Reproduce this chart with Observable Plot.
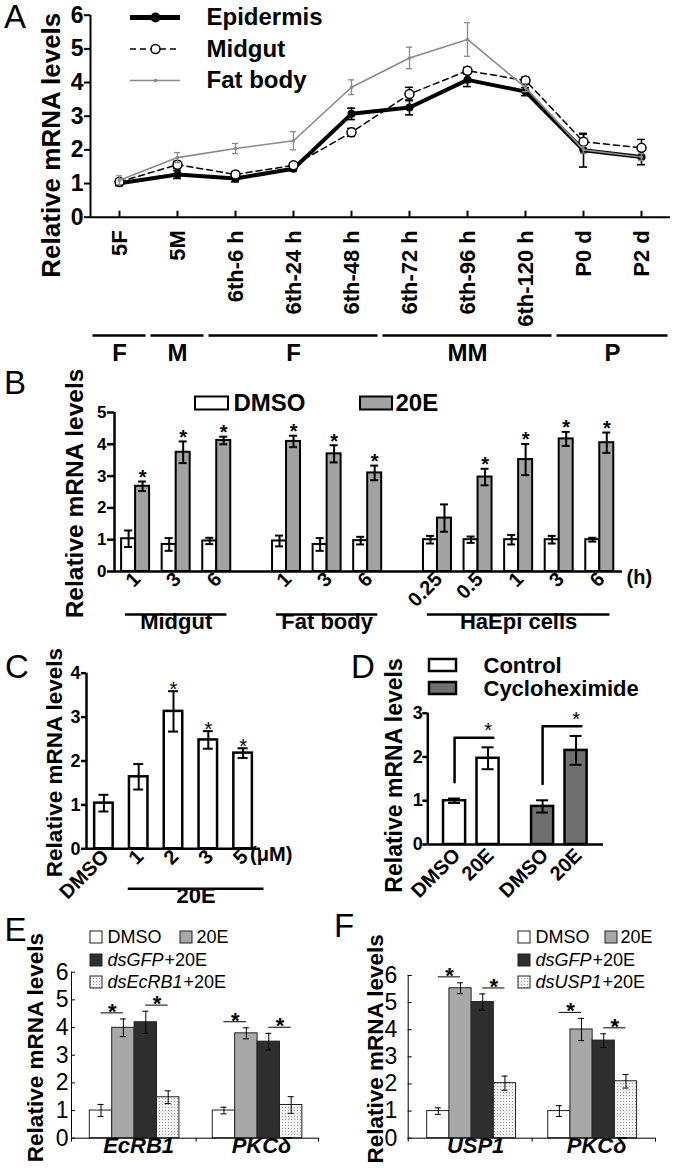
<!DOCTYPE html>
<html><head><meta charset="utf-8">
<script src="https://cdn.jsdelivr.net/npm/d3@7"></script>
<script src="https://cdn.jsdelivr.net/npm/@observablehq/plot@0.6"></script>
<style>
html,body{margin:0;padding:0;background:#fff;}
#fig{position:relative;width:677px;height:1168px;overflow:hidden;background:#fff;font-family:"Liberation Sans",Arial,Helvetica,sans-serif;color:#000;}
#fig svg{max-width:none;}
.plab{position:absolute;font-size:33px;line-height:33px;font-weight:normal;}
</style></head>
<body>
<svg width="0" height="0" style="position:absolute"><defs>
<pattern id="dots" width="3" height="3" patternUnits="userSpaceOnUse"><rect width="3" height="3" fill="#f2f2f2"/><rect width="1" height="1" fill="#9a9a9a"/></pattern>
</defs></svg>
<div id="fig"></div>
<script>
// ================= DATA =================
// Panel A
const stagesA = ["5F","5M","6th-6 h","6th-24 h","6th-48 h","6th-72 h","6th-96 h","6th-120 h","P0 d","P2 d"];
const epidermisMean = [1.01,1.27,1.15,1.44,3.07,3.26,4.08,3.73,1.99,1.79];
const epidermisErr  = [0.07,0.12,0.10,0.07,0.17,0.22,0.20,0.12,0.50,0.23];
const midgutMean    = [1.05,1.56,1.27,1.54,2.52,3.66,4.35,4.06,2.24,2.06];
const midgutErr     = [0.08,0.10,0.08,0.08,0.12,0.20,0.10,0.10,0.22,0.25];
const fatBodyMean   = [1.10,1.77,2.04,2.27,3.86,4.73,5.28,3.85,2.00,1.79];
const fatBodyErr    = [0.13,0.15,0.15,0.27,0.22,0.32,0.50,0.12,0.10,0.10];
const seriesNamesA  = ["Epidermis","Midgut","Fat body"];
const stageGroupLabel = ["F","M","F","MM","P"];
const stageGroupFrom  = ["5F","5M","6th-6 h","6th-72 h","P0 d"];
const stageGroupTo    = ["5F","5M","6th-48 h","6th-120 h","P2 d"];

// Panel B
const tissuesB = ["Midgut","Midgut","Midgut","Fat body","Fat body","Fat body","HaEpi cells","HaEpi cells","HaEpi cells","HaEpi cells","HaEpi cells"];
const hoursB   = ["1","3","6","1","3","6","0.25","0.5","1","3","6"];
const dmsoB    = [1.03,0.85,0.96,0.96,0.85,0.97,1.00,1.00,1.00,1.00,1.00];
const dmsoErrB = [0.26,0.20,0.10,0.17,0.20,0.12,0.12,0.10,0.15,0.12,0.06];
const e20B     = [2.68,3.75,4.12,4.09,3.70,3.10,1.68,2.97,3.52,4.17,4.05];
const e20ErrB  = [0.15,0.34,0.12,0.18,0.27,0.23,0.43,0.26,0.49,0.22,0.32];
const sigB     = [true,true,true,true,true,true,false,true,true,true,true];
const seriesB  = ["DMSO","20E"];

// Panel C
const doseC = ["DMSO","1","2","3","5"];
const meanC = [1.04,1.64,3.13,2.48,2.18];
const errC  = [0.19,0.29,0.46,0.20,0.11];
const sigC  = [false,false,true,true,true];

// Panel D
const groupD = ["Control","Control","Cycloheximide","Cycloheximide"];
const treatD = ["DMSO","20E","DMSO","20E"];
const meanD  = [1.00,1.97,0.87,2.15];
const errD   = [0.05,0.25,0.14,0.33];

// Panel E
const geneE  = ["EcRB1","EcRB1","EcRB1","EcRB1","PKCδ","PKCδ","PKCδ","PKCδ"];
const treatE = ["DMSO","20E","dsGFP+20E","dsEcRB1+20E","DMSO","20E","dsGFP+20E","dsEcRB1+20E"];
const meanE  = [1.00,3.99,4.19,1.48,1.00,3.79,3.49,1.20];
const errE   = [0.22,0.32,0.40,0.23,0.12,0.20,0.30,0.30];

// Panel F
const geneF  = ["USP1","USP1","USP1","USP1","PKCδ","PKCδ","PKCδ","PKCδ"];
const treatF = ["DMSO","20E","dsGFP+20E","dsUSP1+20E","DMSO","20E","dsGFP+20E","dsUSP1+20E"];
const meanF  = [1.00,5.53,5.02,2.03,1.00,4.01,3.60,2.10];
const errF   = [0.12,0.20,0.30,0.26,0.20,0.41,0.25,0.25];

// ================= HELPERS =================
const FONT = '"Liberation Sans", Arial, Helvetica, sans-serif';
const fig = document.getElementById("fig");
const baseStyle = {fontFamily: FONT, background: "none", overflow: "visible", color: "#000"};
const ID = {type: "identity", axis: null};
function place(node, left, top) {
  node.style.position = "absolute"; node.style.left = left + "px"; node.style.top = top + "px";
  fig.appendChild(node); return node;
}
function panelLabel(t, x, y) {
  const d = document.createElement("div"); d.className = "plab"; d.textContent = t; place(d, x, y);
}
function errorMarks(data, {x, v, e, stroke = "#000", strokeWidth = 1.5, cap = 4}) {
  const lo = d => v(d) - e(d), hi = d => v(d) + e(d);
  return [
    Plot.ruleX(data, {x, y1: lo, y2: hi, stroke, strokeWidth}),
    Plot.ruleY(data, {x1: x, x2: x, y: hi, insetLeft: -cap, insetRight: -cap, stroke, strokeWidth}),
    Plot.ruleY(data, {x1: x, x2: x, y: lo, insetLeft: -cap, insetRight: -cap, stroke, strokeWidth})
  ];
}
const ctx = document.createElement("canvas").getContext("2d");
function textWidth(s, font) { ctx.font = font; return ctx.measureText(s).width; }
const YLABEL = "Relative mRNA levels";
function yLabel(dx, dy, fontSize, fontWeight) {
  return Plot.text([YLABEL], {text: d => d, frameAnchor: "left", textAnchor: "middle", rotate: -90, dx, dy, fontSize, fontWeight});
}
const intFmt = d => String(d);

// ================= PANEL A =================
const rowsA = (mean, err) => mean.map((v, i) => ({i, v, e: err[i]}));
const epi = rowsA(epidermisMean, epidermisErr);
const mid = rowsA(midgutMean, midgutErr);
const fat = rowsA(fatBodyMean, fatBodyErr);
const GRAY_A = "#8a8a8a";
const xDomA = [-0.5, stagesA.length - 0.5];
const plotA = Plot.plot({
  width: 677, height: 330, marginLeft: 90, marginRight: 7, marginTop: 14.7, marginBottom: 113.3,
  style: baseStyle,
  x: {domain: xDomA},
  y: {domain: [0, 6]},
  marks: [
    Plot.ruleY([0], {strokeWidth: 2}),
    Plot.ruleX([xDomA[0]], {strokeWidth: 2}),
    Plot.axisY({ticks: d3.range(0, 7), tickFormat: intFmt, tickSize: 6, tickPadding: 1, fontSize: 23, fontWeight: "bold", strokeWidth: 2, label: null}),
    Plot.axisX({ticks: d3.range(stagesA.length), tickFormat: i => stagesA[i], tickSize: -6, tickPadding: 19, tickRotate: -90, fontSize: 22, fontWeight: "bold", strokeWidth: 2, label: null}),
    yLabel(-39, 29, 26, "bold"),
    ...errorMarks(epi, {x: "i", v: d => d.v, e: d => d.e, strokeWidth: 1.6, cap: 4}),
    Plot.line(epi, {x: "i", y: "v", stroke: "#000", strokeWidth: 4}),
    Plot.dot(epi, {x: "i", y: "v", r: 4, fill: "#000"}),
    ...errorMarks(mid, {x: "i", v: d => d.v, e: d => d.e, strokeWidth: 1.4, cap: 4}),
    Plot.line(mid, {x: "i", y: "v", stroke: "#000", strokeWidth: 1.5, strokeDasharray: "6,4"}),
    Plot.dot(mid, {x: "i", y: "v", r: 4.5, fill: "white", stroke: "#000", strokeWidth: 1.5}),
    ...errorMarks(fat, {x: "i", v: d => d.v, e: d => d.e, stroke: GRAY_A, strokeWidth: 1.3, cap: 3}),
    Plot.line(fat, {x: "i", y: "v", stroke: GRAY_A, strokeWidth: 1.6}),
    Plot.dot(fat, {x: "i", y: "v", r: 1.8, fill: GRAY_A})
  ]
});
place(plotA, 0, 0);

// legend A
const legRowA = i => 17 + i * 31.5;
const legendA = Plot.plot({
  width: 677, height: 100, margin: 0, style: baseStyle,
  x: ID, y: ID,
  marks: [
    Plot.ruleY([legRowA(0)], {x1: 130, x2: 180, strokeWidth: 5}),
    Plot.dot([[155, legRowA(0)]], {r: 5, fill: "#000"}),
    Plot.ruleY([legRowA(1)], {x1: 130, x2: 180, strokeWidth: 1.5, strokeDasharray: "6,4"}),
    Plot.dot([[155, legRowA(1)]], {r: 4.5, fill: "white", stroke: "#000", strokeWidth: 1.5}),
    Plot.ruleY([legRowA(2)], {x1: 130, x2: 180, stroke: GRAY_A, strokeWidth: 1.6}),
    Plot.dot([[155, legRowA(2)]], {r: 1.8, fill: GRAY_A}),
    Plot.text(seriesNamesA, {text: d => d, x: 206, y: (d, i) => legRowA(i), textAnchor: "start", fontSize: 24, fontWeight: "bold"})
  ]
});
place(legendA, 0, 0);

// stage groups under A
const stageGroups = stageGroupLabel.map((lab, k) => ({lab, from: stagesA.indexOf(stageGroupFrom[k]), to: stagesA.indexOf(stageGroupTo[k])}));
const plotAG = Plot.plot({
  width: 677, height: 45, marginLeft: 90, marginRight: 7, marginTop: 0, marginBottom: 35,
  style: baseStyle,
  x: {domain: xDomA, axis: null},
  y: {domain: [0, 1], axis: null},
  marks: [
    Plot.ruleY(stageGroups, {y: 0, x1: d => d.from - 0.5, x2: d => d.to + 0.5, insetLeft: 2.5, insetRight: 2.5, strokeWidth: 2.5}),
    Plot.text(stageGroups, {x: d => (d.from + d.to) / 2, y: 0, text: "lab", dy: 18, fontSize: 24, fontWeight: "bold"})
  ]
});
place(plotAG, 0, 325);

// ================= PANEL B =================
const GAP_B = 0.72, BW_B = 0.345;
const tissueOrder = [...new Set(tissuesB)];
const rowsB = hoursB.map((h, i) => ({hour: h, tissue: tissuesB[i], pos: i + tissueOrder.indexOf(tissuesB[i]) * GAP_B,
  dm: dmsoB[i], dmE: dmsoErrB[i], tz: e20B[i], tzE: e20ErrB[i], sig: sigB[i]}));
const groupsB = tissueOrder.map(t => { const r = rowsB.filter(d => d.tissue === t); return {tissue: t, first: r[0].pos, last: r[r.length - 1].pos}; });
const xDomB = [-0.52, 12.0];
const GRAY_B = "#a2a2a2";
const plotB = Plot.plot({
  width: 677, height: 265, marginLeft: 114, marginRight: 55, marginTop: 32, marginBottom: 74,
  style: baseStyle,
  x: {domain: xDomB, axis: null},
  y: {domain: [0, 5]},
  marks: [
    Plot.rect(rowsB, {x1: d => d.pos - BW_B, x2: d => d.pos, y1: 0, y2: "dm", fill: "white", stroke: "#000", strokeWidth: 2}),
    Plot.rect(rowsB, {x1: d => d.pos, x2: d => d.pos + BW_B, y1: 0, y2: "tz", fill: GRAY_B, stroke: "#000", strokeWidth: 2}),
    ...errorMarks(rowsB, {x: d => d.pos - BW_B / 2, v: d => d.dm, e: d => d.dmE, strokeWidth: 2, cap: 4}),
    ...errorMarks(rowsB, {x: d => d.pos + BW_B / 2, v: d => d.tz, e: d => d.tzE, strokeWidth: 2, cap: 4}),
    Plot.text(rowsB.filter(d => d.sig), {x: d => d.pos + BW_B / 2, y: d => d.tz + d.tzE, text: () => "*", dy: -4, fontSize: 20, fontWeight: "bold"}),
    Plot.ruleY([0], {strokeWidth: 2.5}),
    Plot.ruleX([xDomB[0]], {strokeWidth: 2.5}),
    Plot.axisY({ticks: d3.range(0, 6), tickFormat: intFmt, tickSize: 7, tickPadding: 1, fontSize: 17, fontWeight: "bold", strokeWidth: 2.5, label: null}),
    Plot.text(rowsB, {x: "pos", text: "hour", frameAnchor: "bottom", rotate: -45, textAnchor: "end", dx: 6, dy: 9, fontSize: 20, fontWeight: "bold"}),
    Plot.text(["(h)"], {text: d => d, frameAnchor: "bottom-right", dx: 4, dy: 12, textAnchor: "start", fontSize: 20, fontWeight: "bold"}),
    Plot.ruleY(groupsB, {y: 0, x1: d => d.first - 0.25, x2: d => d.last + 0.25, dy: 43, strokeWidth: 2.5}),
    Plot.text(groupsB, {x: d => (d.first + d.last) / 2, frameAnchor: "bottom", textAnchor: "middle", text: "tissue", dy: 57, fontSize: 22, fontWeight: "bold"}),
    yLabel(-39, 1.5, 24.5, "bold")
  ]
});
place(plotB, 0, 380);

const legendB = Plot.plot({
  width: 677, height: 50, margin: 0, style: baseStyle,
  x: ID, y: ID,
  marks: [
    Plot.rect([0], {x1: 195, x2: 228, y1: 16.5, y2: 29.5, fill: "white", stroke: "#000", strokeWidth: 2}),
    Plot.rect([0], {x1: 360, x2: 392, y1: 16.5, y2: 29.5, fill: GRAY_B, stroke: "#000", strokeWidth: 2}),
    Plot.text(seriesB, {text: d => d, x: (d, i) => [233, 395][i], y: 23, textAnchor: "start", fontSize: 24, fontWeight: "bold"})
  ]
});
place(legendB, 0, 380);

// ================= PANEL C =================
const rowsC = doseC.map((d, i) => ({dose: d, i, v: meanC[i], e: errC[i], sig: sigC[i]}));
const BW_C = 0.266;
const e20GroupC = {label: "20E", first: 1, last: doseC.length - 1};
const plotC = Plot.plot({
  width: 340, height: 270, marginLeft: 86, marginRight: 80, marginTop: 22.7, marginBottom: 71.7,
  style: baseStyle,
  x: {domain: [-0.5, doseC.length - 0.5], axis: null},
  y: {domain: [0, 4]},
  marks: [
    Plot.rect(rowsC, {x1: d => d.i - BW_C, x2: d => d.i + BW_C, y1: 0, y2: "v", fill: "white", stroke: "#000", strokeWidth: 2.5}),
    ...errorMarks(rowsC, {x: "i", v: d => d.v, e: d => d.e, strokeWidth: 2, cap: 5}),
    Plot.text(rowsC.filter(d => d.sig), {x: "i", y: d => d.v + d.e, text: () => "*", dy: -2, fontSize: 20}),
    Plot.ruleY([0], {strokeWidth: 2.5}),
    Plot.ruleX([-0.5], {strokeWidth: 2.5}),
    Plot.axisY({ticks: d3.range(0, 5), tickFormat: intFmt, tickSize: 5, tickPadding: 1, fontSize: 18, fontWeight: "bold", strokeWidth: 2.5, label: null}),
    Plot.text(rowsC, {x: "i", text: "dose", frameAnchor: "bottom", rotate: -45, textAnchor: "end", dx: 6, dy: 9, fontSize: 20, fontWeight: "bold"}),
    Plot.text(["(μM)"], {text: d => d, x: doseC.length - 1, frameAnchor: "bottom", dx: 7, dy: 12, textAnchor: "start", fontSize: 20, fontWeight: "bold"}),
    Plot.ruleY([e20GroupC], {y: 0, x1: d => d.first - 0.3, x2: d => d.last + 0.6, dy: 40, strokeWidth: 2.5}),
    Plot.text([e20GroupC], {x: d => (d.first - 0.3 + d.last + 0.6) / 2, frameAnchor: "bottom", textAnchor: "middle", text: "label", dy: 54, fontSize: 22, fontWeight: "bold"}),
    yLabel(-32, 1.5, 22.5, "bold")
  ]
});
place(plotC, 0, 650);

// ================= PANEL D =================
const GAP_D = 2.63, BW_D = 0.33;
const groupOrderD = [...new Set(groupD)];
const treatOrderD = ["DMSO", "20E"];
const fillD = {"Control": "white", "Cycloheximide": "#6f6f6f"};
const rowsD = treatD.map((t, i) => ({g: groupD[i], t, pos: groupOrderD.indexOf(groupD[i]) * GAP_D + treatOrderD.indexOf(t), v: meanD[i], e: errD[i]}));
const bracketPts = groupOrderD.flatMap(g => {
  const a = rowsD.find(d => d.g === g && d.t === "DMSO"), b = rowsD.find(d => d.g === g && d.t === "20E");
  const low = a.v + a.e + 0.37, high = b.v + b.e + 0.22;
  return [{g, x: a.pos, y: low}, {g, x: a.pos, y: high}, {g, x: b.pos + 0.16, y: high, star: b.pos}];
});
const xDomD = [-0.8, 4.45];
const plotD = Plot.plot({
  width: 337, height: 270, marginLeft: 87.3, marginRight: 74, marginTop: 62.7, marginBottom: 76,
  style: baseStyle,
  x: {domain: xDomD, axis: null},
  y: {domain: [0, 3]},
  marks: [
    ...groupOrderD.map(g => Plot.rect(rowsD.filter(d => d.g === g), {x1: d => d.pos - BW_D, x2: d => d.pos + BW_D, y1: 0, y2: "v", fill: fillD[g], stroke: "#000", strokeWidth: 2.5})),
    ...errorMarks(rowsD, {x: "pos", v: d => d.v, e: d => d.e, strokeWidth: 2, cap: 6}),
    Plot.line(bracketPts, {x: "x", y: "y", z: "g", stroke: "#000", strokeWidth: 2.5}),
    Plot.text(bracketPts.filter(d => d.star !== undefined), {x: "star", y: "y", text: () => "*", dy: -7, fontSize: 20}),
    Plot.ruleY([0], {strokeWidth: 2.5}),
    Plot.ruleX([xDomD[0]], {strokeWidth: 2.5}),
    Plot.axisY({ticks: d3.range(0, 4), tickFormat: intFmt, tickSize: 5, tickPadding: 0, fontSize: 18, fontWeight: "bold", strokeWidth: 2.5, label: null}),
    Plot.text(rowsD, {x: "pos", text: "t", frameAnchor: "bottom", rotate: -45, textAnchor: "end", dx: 7, dy: 12, fontSize: 20, fontWeight: "bold"}),
    yLabel(-33.3, -3.4, 23, "bold")
  ]
});
place(plotD, 340, 650);

const legendD = Plot.plot({
  width: 337, height: 50, margin: 0, style: baseStyle,
  x: ID, y: ID,
  marks: [
    ...groupOrderD.map((g, i) => Plot.rect([g], {x1: 89, x2: 116, y1: 9 + i * 23, y2: 21 + i * 23, fill: fillD[g], stroke: "#000", strokeWidth: 2.5})),
    Plot.text(groupOrderD, {text: d => d, x: 143, y: (d, i) => 15 + i * 23, textAnchor: "start", fontSize: 22, fontWeight: "bold"})
  ]
});
place(legendD, 340, 650);

// ================= PANELS E & F =================
const fillsKD = ["white", "#a8a8a8", "#2e2e2e", "url(#dots)"];
function knockPlot({genes, treats, mean, err, width, marginLeft, marginRight, marginTop, step, xDom, tickPadding, ylDx, ylDy}) {
  const geneOrder = [...new Set(genes)];
  const treatOrder = treats.slice(0, 4);
  const rows = genes.map((g, i) => ({g, gi: geneOrder.indexOf(g), s: treatOrder.indexOf(treats[i]), v: mean[i], e: err[i]}))
    .map(d => ({...d, pos: d.gi * step + d.s}));
  const sig = geneOrder.flatMap(g => [[0, 1], [2, 3]].map(([a, b]) => {
    const ra = rows.find(d => d.g === g && d.s === a), rb = rows.find(d => d.g === g && d.s === b);
    return {x1: ra.pos + 0.5, x2: rb.pos + 0.5, y: Math.max(ra.v + ra.e, rb.v + rb.e) + 0.22};
  }));
  const seps = [xDom[0], (4 + step) / 2, xDom[1]];
  return Plot.plot({
    width, height: 268, marginLeft, marginRight, marginTop, marginBottom: 30.3,
    style: baseStyle,
    x: {domain: xDom, axis: null},
    y: {domain: [0, 6]},
    marks: [
      ...treatOrder.map((t, s) => Plot.rect(rows.filter(d => d.s === s), {x1: "pos", x2: d => d.pos + 1, y1: 0, y2: "v", fill: fillsKD[s], stroke: "#222", strokeWidth: 1})),
      ...errorMarks(rows, {x: d => d.pos + 0.5, v: d => d.v, e: d => d.e, strokeWidth: 1, cap: 3}),
      Plot.ruleY(sig, {x1: "x1", x2: "x2", y: "y", strokeWidth: 1}),
      Plot.text(sig, {x: d => (d.x1 + d.x2) / 2, y: "y", text: () => "*", dy: -1, fontSize: 22, fontWeight: "bold"}),
      Plot.ruleY([0], {strokeWidth: 1}),
      Plot.ruleX([xDom[0]], {strokeWidth: 1}),
      Plot.ruleX(seps, {y1: 0, y2: 0, insetBottom: -4, strokeWidth: 1}),
      Plot.axisY({ticks: d3.range(0, 7), tickFormat: intFmt, tickSize: -4, tickPadding, fontSize: 23, strokeWidth: 1, label: null}),
      Plot.text(geneOrder, {text: d => d, x: (d, i) => i * step + 2, frameAnchor: "bottom", textAnchor: "middle", dx: 4, dy: 15, fontSize: 22, fontWeight: "bold", fontStyle: "italic"}),
      yLabel(ylDx, ylDy, 22.5, "bold")
    ]
  });
}
const plotE = knockPlot({genes: geneE, treats: treatE, mean: meanE, err: errE, width: 335, marginLeft: 71, marginRight: 17, marginTop: 71.7,
  step: 5.49, xDom: [-0.817, 10.21], tickPadding: 7, ylDx: -36, ylDy: -7.7});
place(plotE, 0, 900);
const plotF = knockPlot({genes: geneF, treats: treatF, mean: meanF, err: errF, width: 342, marginLeft: 72.7, marginRight: 22, marginTop: 75,
  step: 5.45, xDom: [-0.856, 10.28], tickPadding: 15, ylDx: -32.5, ylDy: -8});
place(plotF, 335, 900);

// legends E & F
function kdLegend(treats, boxX, textX, box2X, text2X) {
  const names = treats.slice(0, 4);
  const rowY = [37, 37, 60, 82];
  const bx = [boxX, box2X, boxX, boxX];
  const tx = [textX, text2X, textX, textX];
  const marks = [];
  names.forEach((name, s) => {
    marks.push(Plot.rect([name], {x1: bx[s], x2: bx[s] + 12, y1: rowY[s] - 6, y2: rowY[s] + 6, fill: fillsKD[s], stroke: "#222", strokeWidth: 1}));
    const m = name.match(/^(ds\w+)(\+20E)$/);
    if (m) {
      const w = textWidth(m[1], `italic 18px ${FONT}`);
      marks.push(Plot.text([m[1]], {text: d => d, x: tx[s], y: rowY[s], textAnchor: "start", fontSize: 18, fontStyle: "italic"}));
      marks.push(Plot.text([m[2]], {text: d => d, x: tx[s] + w + 1, y: rowY[s], textAnchor: "start", fontSize: 18}));
    } else {
      marks.push(Plot.text([name], {text: d => d, x: tx[s], y: rowY[s], textAnchor: "start", fontSize: 18}));
    }
  });
  return Plot.plot({width: 342, height: 100, margin: 0, style: baseStyle, x: ID, y: ID, marks});
}
place(kdLegend(treatE, 90, 107, 180, 196), 0, 900);
place(kdLegend(treatF, 183, 200, 270, 285), 335, 900);

// panel letters
panelLabel("A", 4, 0);
panelLabel("B", 4, 366);
panelLabel("C", 5, 650);
panelLabel("D", 351, 650);
panelLabel("E", 4.5, 913);
panelLabel("F", 334, 909);
</script>
</body></html>
